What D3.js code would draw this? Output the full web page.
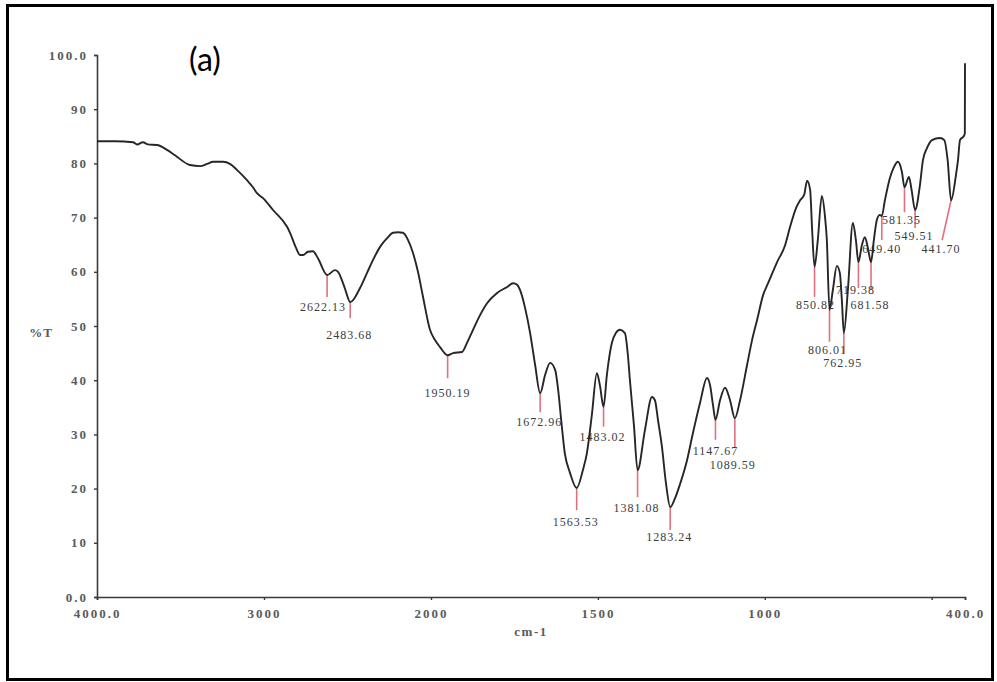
<!DOCTYPE html>
<html>
<head>
<meta charset="utf-8">
<script src="https://cdn.jsdelivr.net/npm/d3@7"></script>
<style>
  html, body { margin: 0; padding: 0; background: #ffffff; }
  svg { display: block; }
</style>
</head>
<body>
<script>
// FTIR spectrum: wavenumber (cm-1) and transmittance (%T)
const wavenumbers = [
  4000, 3892, 3784, 3760, 3725, 3695, 3641, 3581, 3533, 3443, 3383, 3341, 3305, 3245, 3204,
  3162, 3102, 3066, 3042, 3006, 2946, 2862, 2844, 2808, 2784, 2766, 2737, 2707, 2677, 2622.13,
  2575, 2557, 2521, 2509, 2483.68, 2425, 2383, 2347, 2305, 2263, 2228, 2198, 2168, 2138, 2108,
  2078, 2048, 2006, 1988, 1973, 1950.19, 1934, 1907, 1892, 1874, 1853, 1832, 1802, 1772, 1754,
  1742, 1733, 1718, 1703, 1688, 1672.96, 1658, 1643, 1628, 1619, 1610, 1599, 1584, 1563.53, 1545,
  1533, 1518, 1503, 1494, 1483.02, 1473, 1458, 1446, 1434, 1419, 1410, 1404, 1392, 1381.08, 1359,
  1338, 1329, 1320, 1308, 1296, 1283.24, 1269, 1254, 1233, 1215, 1194, 1173, 1164, 1155, 1147.67,
  1134, 1119, 1104, 1089.59, 1074, 1053, 1038, 1023, 1005, 990, 963, 939, 924, 906, 894,
  882, 873, 864, 858, 850.82, 841, 829, 820, 814, 806.01, 796, 784, 775, 769, 762.95,
  751, 736, 727, 719.38, 709, 700, 691, 681.58, 673, 664, 655, 649.40, 640, 625, 613,
  601, 589, 581.35, 568, 560, 549.51, 535, 526, 514, 499, 475, 462, 452, 441.70, 427,
  421, 415, 403, 400.5, 400
];
const transmittance = [
  84.1, 84.1, 83.9, 83.5, 83.9, 83.5, 83.4, 82.5, 81.5, 79.7, 79.5, 79.9, 80.3, 80.3, 79.9,
  78.8, 76.9, 75.6, 74.5, 73.6, 71.4, 68.3, 67.2, 64.4, 63.1, 63.1, 63.7, 63.8, 62.5, 59.4,
  60.3, 60.0, 57.4, 56.3, 54.4, 57.0, 59.8, 62.2, 64.6, 66.2, 67.2, 67.3, 67.2, 65.9, 63.5,
  60.0, 55.4, 49.3, 47.4, 46.1, 44.6, 45.0, 45.2, 46.9, 49.3, 52.0, 54.2, 56.1, 57.2, 57.9,
  57.6, 56.6, 53.3, 48.7, 42.8, 37.6, 41.0, 43.2, 41.9, 38.2, 32.7, 26.5, 23.0, 20.1, 23.4,
  26.5, 33.6, 41.3, 39.1, 35.1, 41.0, 46.9, 48.7, 49.3, 48.7, 44.6, 40.0, 31.7, 23.4, 30.8,
  36.9, 36.3, 32.7, 27.7, 21.0, 16.6, 18.2, 20.8, 25.2, 30.3, 35.8, 40.4, 39.1, 35.4, 32.7,
  36.3, 38.6, 36.3, 33.0, 36.3, 42.8, 47.4, 51.1, 55.7, 57.9, 61.8, 64.9, 68.3, 71.8, 73.2,
  74.2, 76.8, 75.1, 67.7, 60.9, 65.9, 74.0, 70.5, 65.9, 53.0, 56.6, 61.1, 59.8, 54.8, 48.7,
  56.6, 69.0, 65.9, 61.8, 64.9, 66.4, 64.4, 61.8, 65.9, 69.6, 70.5, 70.3, 73.2, 77.3, 79.3,
  80.3, 78.4, 75.6, 77.5, 75.1, 71.4, 76.0, 80.6, 82.8, 84.3, 84.7, 84.3, 80.6, 73.2, 77.9,
  80.6, 84.3, 85.1, 85.6, 98.5
];

// Peak annotations (wavenumber text as printed)
const peakLabels = [
  "2622.13", "2483.68", "1950.19", "1672.96", "1563.53", "1483.02", "1381.08", "1283.24",
  "1147.67", "1089.59", "850.82", "806.01", "762.95", "719.38", "681.58", "649.40",
  "581.35", "549.51", "441.70"
];

// Axis ticks
const xTickValues = [4000, 3000, 2000, 1500, 1000, 500, 400];
const xTickLabels = ["4000.0", "3000", "2000", "1500", "1000", "", "400.0"];
const yTickValues = [0, 10, 20, 30, 40, 50, 60, 70, 80, 90, 100];
const yTickLabels = ["0.0", "10", "20", "30", "40", "50", "60", "70", "80", "90", "100.0"];

// Placement of each peak marker: stem length, stem lean, label offset (px)
const peakLayout = [
  [22, 0, -4, 32], [16, 0, -1, 33], [23, 0, 0, 38], [19, 0, -1, 29], [22, 0, -1, 34],
  [20, 0, -1, 30], [27, 0, -1, 38], [23, 0, -1, 30], [20, 0, 0, 31], [29, 0, -2, 47],
  [30, 0, 1, 38], [32, 0, -2, 40], [20, 0, -1, 30], [26, 0, -3, 28], [28, 0, -1, 43],
  [24, 0, 0, 33], [25, 0, -3, 33], [18, 0, -1, 26], [40, -9, -10, 49]
];

const W = 997, H = 682;
const svg = d3.select("body").append("svg").attr("width", W).attr("height", H);
svg.append("rect").attr("width", W).attr("height", H).attr("fill", "#fff");

// Frame
svg.append("rect")
  .attr("x", 7.5).attr("y", 5.5).attr("width", 985).attr("height", 674)
  .attr("fill", "none").attr("stroke", "#000").attr("stroke-width", 3);

// Scales: the axis is compressed above 2000 cm-1, as is usual for IR spectra
const x = d3.scaleLinear().domain([4000, 2000, 400]).range([97, 431, 965]);
const y = d3.scaleLinear().domain([0, 100]).range([597, 55]);

const tickFont = "'Liberation Serif', 'Times New Roman', serif";

const xAxis = d3.axisBottom(x)
  .tickValues(xTickValues)
  .tickSize(3)
  .tickPadding(6)
  .tickFormat((d, i) => xTickLabels[i]);
const yAxis = d3.axisLeft(y)
  .tickValues(yTickValues)
  .tickSize(3)
  .tickPadding(6)
  .tickFormat((d, i) => yTickLabels[i]);

const gx = svg.append("g").attr("transform", `translate(0,${y(0)})`).call(xAxis);
const gy = svg.append("g").attr("transform", `translate(${x(4000)},0)`).call(yAxis);

[gx, gy].forEach(g => {
  g.select(".domain").attr("stroke", "#3a3a3a").attr("stroke-width", 1.6);
  g.selectAll(".tick line").attr("stroke", "#3a3a3a").attr("stroke-width", 1.4);
  g.selectAll(".tick text")
    .attr("font-family", tickFont)
    .attr("font-size", 13)
    .attr("letter-spacing", "2px")
    .attr("font-weight", "bold")
    .attr("fill", "#5a5a5a");
});
gx.selectAll(".tick text").attr("dy", "0.9em");

// Axis titles
svg.append("text")
  .attr("x", 41).attr("y", 337)
  .attr("text-anchor", "middle")
  .attr("font-family", tickFont).attr("font-size", 13).attr("font-weight", "bold")
  .attr("letter-spacing", "1px").attr("fill", "#5a5a5a")
  .text("%T");
svg.append("text")
  .attr("x", 531).attr("y", 636)
  .attr("text-anchor", "middle")
  .attr("font-family", tickFont).attr("font-size", 13).attr("font-weight", "bold")
  .attr("letter-spacing", "1.5px").attr("fill", "#5a5a5a")
  .text("cm-1");

// Panel tag
svg.append("text")
  .attr("x", 189).attr("y", 71)
  .attr("font-family", "Lato, 'Open Sans', sans-serif")
  .attr("font-size", 32)
  .attr("fill", "#000")
  .text("(a)");

// Spectrum
const points = wavenumbers.map((w, i) => [w, transmittance[i]]);
const line = d3.line()
  .x(d => x(d[0]))
  .y(d => y(d[1]))
  .curve(d3.curveMonotoneX);

// Transmittance at a wavenumber, from the spectrum data
const ascending = points.slice().sort((a, b) => a[0] - b[0]);
const bis = d3.bisector(d => d[0]).left;
function valueAt(w) {
  const i = bis(ascending, w);
  if (i <= 0) return ascending[0][1];
  if (i >= ascending.length) return ascending[ascending.length - 1][1];
  const a = ascending[i - 1], b = ascending[i];
  if (b[0] === w) return b[1];
  return a[1] + (b[1] - a[1]) * (w - a[0]) / (b[0] - a[0]);
}

// Peak stems (drawn beneath the spectrum)
const peaks = peakLabels.map((t, i) => {
  const w = parseFloat(t);
  return { text: t, w, t: valueAt(w), layout: peakLayout[i] };
});

const pg = svg.append("g");
pg.selectAll("line")
  .data(peaks)
  .join("line")
  .attr("x1", d => x(d.w))
  .attr("y1", d => y(d.t))
  .attr("x2", d => x(d.w) + d.layout[1])
  .attr("y2", d => y(d.t) + d.layout[0])
  .attr("stroke", "#e2707e")
  .attr("stroke-width", 1.6);

pg.selectAll("text")
  .data(peaks)
  .join("text")
  .attr("x", d => x(d.w) + d.layout[2])
  .attr("y", d => y(d.t) + d.layout[3])
  .attr("dy", "0.35em")
  .attr("text-anchor", "middle")
  .attr("font-family", tickFont)
  .attr("font-size", 12)
  .attr("letter-spacing", "1px")
  .attr("fill", "#3c3c3c")
  .text(d => d.text);

svg.append("path")
  .datum(points)
  .attr("d", line)
  .attr("fill", "none")
  .attr("stroke", "#262626")
  .attr("stroke-width", 1.9)
  .attr("stroke-linejoin", "round");
</script>
</body>
</html>
